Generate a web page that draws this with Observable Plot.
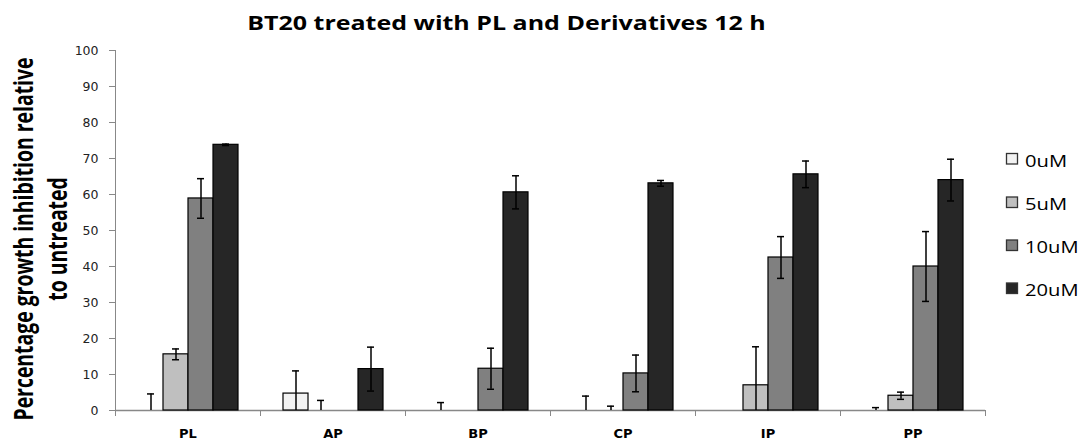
<!DOCTYPE html>
<html><head><meta charset="utf-8">
<script src="https://cdn.jsdelivr.net/npm/d3@7"></script>
<script src="https://cdn.jsdelivr.net/npm/@observablehq/plot@0.6"></script>
<style>
body{margin:0;background:#fff;}
#wrap{position:relative;width:1084px;height:440px;overflow:hidden;background:#fff;}
#overlay{position:absolute;left:0;top:0;pointer-events:none;}
#overlay .title{font:bold 20px "Open Sans",sans-serif;fill:#000;}
#overlay .ylab{font:bold 19.4px "Open Sans",sans-serif;fill:#000;}
#overlay .leg{font:16.4px "Open Sans",sans-serif;fill:#000;}
#chart svg text{font-size:12.5px;font-family:"DejaVu Sans",sans-serif;}
#chart svg [aria-label^="y-axis"] text{fill:#222;}
#chart svg [aria-label^="fx-axis"] text{fill:#000;font-weight:bold;font-size:13px;}
</style></head>
<body>
<div id="wrap">
  <div id="chart"></div>
  <svg id="overlay" width="1084" height="440"></svg>
</div>
<script>
const titleText = "BT20 treated with PL and Derivatives 12 h";
const yLabelLines = ["Percentage growth inhibition relative", "to untreated"];
const categories = ["PL", "AP", "BP", "CP", "IP", "PP"];
const series = ["0uM", "5uM", "10uM", "20uM"];
const seriesColors = ["#f2f2f2", "#bfbfbf", "#808080", "#262626"];
const yTicks = [0, 10, 20, 30, 40, 50, 60, 70, 80, 90, 100];

// mean values per concentration (index follows categories)
const v0uM  = [0,    4.7,  0,    0,    0,    0];
const v5uM  = [15.6, 0,    0,    0,    7.0,  4.1];
const v10uM = [58.9, 0,    11.6, 10.3, 42.5, 40.0];
const v20uM = [73.8, 11.5, 60.6, 63.1, 65.6, 64.0];
// error bar half-widths
const e0uM  = [4.6, 6.3, 2.2, 4.0, 0,    0.8];
const e5uM  = [1.5, 2.8, 0,   1.2, 10.7, 1.0];
const e10uM = [5.5, 0,   5.7, 5.1, 5.8,  9.7];
const e20uM = [0.2, 6.1, 4.6, 0.8, 3.7,  5.8];

const valueSets = [v0uM, v5uM, v10uM, v20uM];
const errSets = [e0uM, e5uM, e10uM, e20uM];
const rows = [];
valueSets.forEach((vals, j) => vals.forEach((v, i) => rows.push({cat: categories[i], conc: series[j], value: v, err: errSets[j][i]})));
const errRows = rows.filter(d => d.err > 0).map(d => ({...d, lo: Math.max(0, d.value - d.err), hi: d.value + d.err}));
const loCaps = errRows.filter(d => d.value - d.err > 0);

const axisGrey = "#888888";
const chart = Plot.plot({
  width: 1084, height: 440,
  marginLeft: 115, marginRight: 99, marginTop: 50, marginBottom: 30,
  style: {fontFamily: "DejaVu Sans, sans-serif", fontSize: "12.5px", color: axisGrey, background: "transparent"},
  fx: {domain: categories, padding: 0, label: null, axis: "bottom", tickSize: 0, tickPadding: 18},
  x: {domain: series, paddingInner: 0, paddingOuter: 0.79, axis: null},
  y: {domain: [0, 100], ticks: yTicks, tickSize: 6, tickPadding: 11, label: null, line: true},
  color: {domain: series, range: seriesColors},
  marks: [
    Plot.frame({anchor: "left", stroke: axisGrey, insetTop: 360, insetBottom: -5}),
    Plot.frame({anchor: "right", stroke: axisGrey, insetTop: 360, insetBottom: -5}),
    Plot.ruleY([0], {stroke: axisGrey, strokeWidth: 1.5}),
    Plot.barY(rows, {fx: "cat", x: "conc", y: "value", fill: "conc", stroke: "#000", strokeWidth: 1.2}),
    Plot.ruleX(errRows, {fx: "cat", x: "conc", y1: "lo", y2: "hi", stroke: "#000", strokeWidth: 1.5}),
    Plot.tickY(errRows, {fx: "cat", x: "conc", y: "hi", stroke: "#000", strokeWidth: 1.5, insetLeft: 9, insetRight: 9}),
    Plot.tickY(loCaps, {fx: "cat", x: "conc", y: "lo", stroke: "#000", strokeWidth: 1.5, insetLeft: 9, insetRight: 9})
  ]
});
document.getElementById("chart").appendChild(chart);

const ov = d3.select("#overlay");
// title (stretched horizontally as in the reference)
ov.append("text").attr("class", "title")
  .attr("transform", "translate(506.5,30) scale(1.25,1)")
  .attr("text-anchor", "middle")
  .text(titleText);

// rotated y-axis label, two lines (glyphs widened along screen x like the reference)
const yBaselines = [33, 67];
yLabelLines.forEach((t, k) => {
  ov.append("text").attr("class", "ylab")
    .attr("transform", `translate(${yBaselines[k]},239) scale(1.36,1) rotate(-90)`)
    .attr("text-anchor", "middle")
    .text(t);
});

// legend
const legendBaselines = [166.5, 210, 253, 296];
series.forEach((s, j) => {
  const b = legendBaselines[j];
  ov.append("rect").attr("x", 1006.5).attr("y", b - 13).attr("width", 11).attr("height", 10.5)
    .attr("fill", seriesColors[j]).attr("stroke", "#333").attr("stroke-width", 1.3);
  ov.append("text").attr("class", "leg").attr("transform", `translate(1025,${b}) scale(1.23,1)`).text(s);
});
</script>
</body></html>
